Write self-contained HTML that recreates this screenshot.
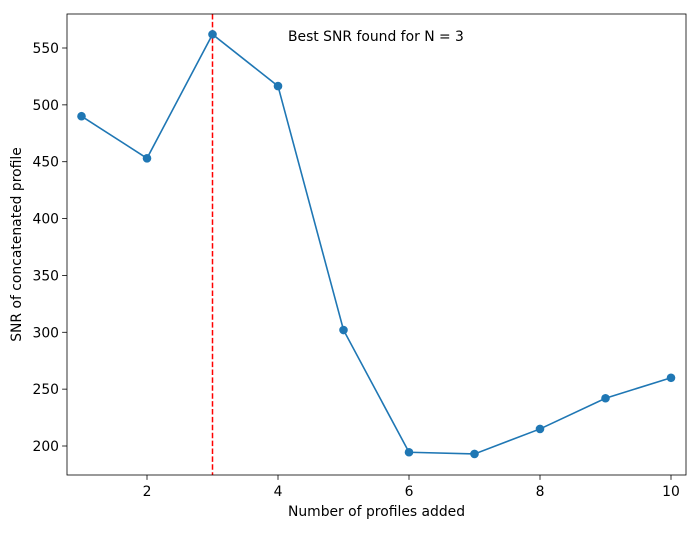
<!DOCTYPE html>
<html><head><meta charset="utf-8"><style>
body{margin:0;background:#fff;}
svg text{font-family:"DejaVu Sans","Liberation Sans",sans-serif;fill:#000;}
</style></head><body>
<svg id="chart" width="699" height="528" xmlns="http://www.w3.org/2000/svg">
<rect width="699" height="528" fill="#fff"/>
<g id="plot"></g>
</svg>
<script>
const xValues=[1,2,3,4,5,6,7,8,9,10];
const snrValues=[490,453,562,516.5,302,194.5,193,215,242,260];
const xTicks=[2,4,6,8,10];
const yTicks=[200,250,300,350,400,450,500,550];
const bestN=3;
const L=67,R=686,T=14,B=475;
const xmin=0.7786,xmax=10.229,ymin=174.5,ymax=579.9;
const sx=v=>L+(v-xmin)/(xmax-xmin)*(R-L);
const sy=v=>B-(v-ymin)/(ymax-ymin)*(B-T);
const g=document.getElementById('plot');
const NS='http://www.w3.org/2000/svg';
function mk(t,a,txt){const e=document.createElementNS(NS,t);for(const k in a)e.setAttribute(k,a[k]);if(txt!==undefined)e.textContent=txt;g.appendChild(e);return e;}
xTicks.forEach(v=>{
 const t=mk('line',{x1:sx(v),x2:sx(v),y1:B,y2:B+4.9,stroke:'#000','stroke-width':0.8});
 
 
 const l=mk('text',{x:sx(v),y:B+21,'text-anchor':'middle','font-size':13.9},String(v));
 
 
});
yTicks.forEach(v=>{
 const t=mk('line',{x1:L-4.9,x2:L,y1:sy(v),y2:sy(v),stroke:'#000','stroke-width':0.8});
 
 
 const l=mk('text',{x:L-8,y:sy(v)+5,'text-anchor':'end','font-size':13.9},String(v));
 
 
});
const vl=mk('line',{x1:sx(bestN),x2:sx(bestN),y1:T,y2:B,stroke:'#ff0000','stroke-width':1.5,'stroke-dasharray':'5.5,2.4'});


const pl=mk('polyline',{points:xValues.map((x,i)=>sx(x)+','+sy(snrValues[i])).join(' '),fill:'none',stroke:'#1f77b4','stroke-width':1.6});


xValues.forEach((x,i)=>{
 const c=mk('circle',{cx:sx(x),cy:sy(snrValues[i]),r:4.3,fill:'#1f77b4'});
 
 
});
const fr=mk('rect',{x:L,y:T,width:R-L,height:B-T,fill:'none',stroke:'#000','stroke-width':0.8});


const an=mk('text',{x:288,y:41,'font-size':13.9},'Best SNR found for N = '+bestN);


const xl=mk('text',{x:(L+R)/2,y:516,'text-anchor':'middle','font-size':13.9},'Number of profiles added');


const yl=mk('text',{x:21,y:(T+B)/2,'text-anchor':'middle','font-size':13.9,transform:'rotate(-90 21 '+((T+B)/2)+')'},'SNR of concatenated profile');


</script>
</body></html>
